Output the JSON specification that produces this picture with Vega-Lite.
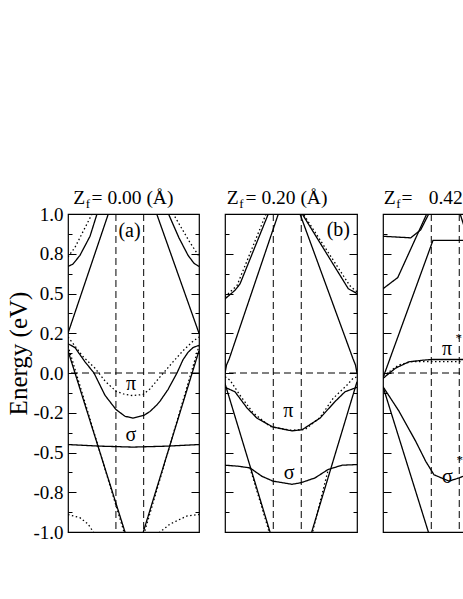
{
"$schema": "https://vega.github.io/schema/vega-lite/v6.json",
"padding": {"top": 187, "left": 5, "right": 0, "bottom": 0},
"bounds": "flush",
"spacing": 26,
"config": {"view": {"stroke": "black", "strokeWidth": 1.2}, "axis": {"labelFont": "Liberation Serif", "titleFont": "Liberation Serif", "labelColor": "black", "tickColor": "black", "titleColor": "black", "grid": false, "domain": false}, "text": {"font": "Liberation Serif", "color": "black"}},
"datasets": {
"kpts": [{"k": 0.577}, {"k": 0.911}],
"fermi": [{"E": 0}],
"bands": [
{"p":"a","id":"a1L","calc":"relaxed","k":0,"E":0.67},{"p":"a","id":"a1L","calc":"relaxed","k":0.06,"E":0.685},{"p":"a","id":"a1L","calc":"relaxed","k":0.144,"E":0.74},{"p":"a","id":"a1L","calc":"relaxed","k":0.265,"E":0.86},{"p":"a","id":"a1L","calc":"relaxed","k":0.349,"E":1.0},{"p":"a","id":"a1L","calc":"relaxed","k":0.37,"E":1.05},
{"p":"a","id":"a1R","calc":"relaxed","k":1.19,"E":1.05},{"p":"a","id":"a1R","calc":"relaxed","k":1.21,"E":1.0},{"p":"a","id":"a1R","calc":"relaxed","k":1.336,"E":0.85},{"p":"a","id":"a1R","calc":"relaxed","k":1.445,"E":0.74},{"p":"a","id":"a1R","calc":"relaxed","k":1.517,"E":0.69},{"p":"a","id":"a1R","calc":"relaxed","k":1.577,"E":0.67},
{"p":"a","id":"a1Ld","calc":"rigid","k":0,"E":0.73},{"p":"a","id":"a1Ld","calc":"rigid","k":0.084,"E":0.79},{"p":"a","id":"a1Ld","calc":"rigid","k":0.289,"E":1.0},{"p":"a","id":"a1Ld","calc":"rigid","k":0.31,"E":1.03},
{"p":"a","id":"a1Rd","calc":"rigid","k":1.25,"E":1.03},{"p":"a","id":"a1Rd","calc":"rigid","k":1.268,"E":1.0},{"p":"a","id":"a1Rd","calc":"rigid","k":1.469,"E":0.82},{"p":"a","id":"a1Rd","calc":"rigid","k":1.577,"E":0.735},
{"p":"a","id":"a2L","calc":"relaxed","k":0,"E":0.25},{"p":"a","id":"a2L","calc":"relaxed","k":0.485,"E":1.0},{"p":"a","id":"a2L","calc":"relaxed","k":0.52,"E":1.05},
{"p":"a","id":"a2R","calc":"relaxed","k":1.04,"E":1.05},{"p":"a","id":"a2R","calc":"relaxed","k":1.068,"E":1.0},{"p":"a","id":"a2R","calc":"relaxed","k":1.577,"E":0.25},
{"p":"a","id":"a3","calc":"rigid","k":0,"E":0.226},{"p":"a","id":"a3","calc":"rigid","k":0.084,"E":0.17},{"p":"a","id":"a3","calc":"rigid","k":0.169,"E":0.11},{"p":"a","id":"a3","calc":"rigid","k":0.265,"E":0.06},{"p":"a","id":"a3","calc":"rigid","k":0.325,"E":0.03},{"p":"a","id":"a3","calc":"rigid","k":0.445,"E":-0.05},{"p":"a","id":"a3","calc":"rigid","k":0.578,"E":-0.115},{"p":"a","id":"a3","calc":"rigid","k":0.686,"E":-0.135},{"p":"a","id":"a3","calc":"rigid","k":0.782,"E":-0.142},{"p":"a","id":"a3","calc":"rigid","k":0.903,"E":-0.135},{"p":"a","id":"a3","calc":"rigid","k":0.987,"E":-0.1},{"p":"a","id":"a3","calc":"rigid","k":1.108,"E":-0.024},{"p":"a","id":"a3","calc":"rigid","k":1.264,"E":0.07},{"p":"a","id":"a3","calc":"rigid","k":1.384,"E":0.14},{"p":"a","id":"a3","calc":"rigid","k":1.505,"E":0.2},{"p":"a","id":"a3","calc":"rigid","k":1.577,"E":0.226},
{"p":"a","id":"a4","calc":"relaxed","k":0,"E":0.184},{"p":"a","id":"a4","calc":"relaxed","k":0.084,"E":0.16},{"p":"a","id":"a4","calc":"relaxed","k":0.205,"E":0.07},{"p":"a","id":"a4","calc":"relaxed","k":0.313,"E":0.0},{"p":"a","id":"a4","calc":"relaxed","k":0.445,"E":-0.14},{"p":"a","id":"a4","calc":"relaxed","k":0.578,"E":-0.23},{"p":"a","id":"a4","calc":"relaxed","k":0.686,"E":-0.272},{"p":"a","id":"a4","calc":"relaxed","k":0.782,"E":-0.284},{"p":"a","id":"a4","calc":"relaxed","k":0.915,"E":-0.266},{"p":"a","id":"a4","calc":"relaxed","k":0.987,"E":-0.242},{"p":"a","id":"a4","calc":"relaxed","k":1.071,"E":-0.2},{"p":"a","id":"a4","calc":"relaxed","k":1.108,"E":-0.177},{"p":"a","id":"a4","calc":"relaxed","k":1.204,"E":-0.104},{"p":"a","id":"a4","calc":"relaxed","k":1.312,"E":0.0},{"p":"a","id":"a4","calc":"relaxed","k":1.384,"E":0.083},{"p":"a","id":"a4","calc":"relaxed","k":1.445,"E":0.13},{"p":"a","id":"a4","calc":"relaxed","k":1.505,"E":0.16},{"p":"a","id":"a4","calc":"relaxed","k":1.577,"E":0.174},
{"p":"a","id":"a5L","calc":"relaxed","k":0,"E":0.14},{"p":"a","id":"a5L","calc":"relaxed","k":0.686,"E":-1.0},{"p":"a","id":"a5L","calc":"relaxed","k":0.71,"E":-1.04},
{"p":"a","id":"a5Ld","calc":"rigid","k":0,"E":0.17},{"p":"a","id":"a5Ld","calc":"rigid","k":0.674,"E":-1.0},{"p":"a","id":"a5Ld","calc":"rigid","k":0.7,"E":-1.04},
{"p":"a","id":"a5R","calc":"relaxed","k":0.88,"E":-1.04},{"p":"a","id":"a5R","calc":"relaxed","k":0.906,"E":-1.0},{"p":"a","id":"a5R","calc":"relaxed","k":1.577,"E":0.14},
{"p":"a","id":"a5Rd","calc":"rigid","k":0.895,"E":-1.04},{"p":"a","id":"a5Rd","calc":"rigid","k":0.921,"E":-1.0},{"p":"a","id":"a5Rd","calc":"rigid","k":1.577,"E":0.17},
{"p":"a","id":"a6","calc":"relaxed","k":0,"E":-0.45},{"p":"a","id":"a6","calc":"relaxed","k":0.385,"E":-0.46},{"p":"a","id":"a6","calc":"relaxed","k":0.782,"E":-0.466},{"p":"a","id":"a6","calc":"relaxed","k":1.192,"E":-0.46},{"p":"a","id":"a6","calc":"relaxed","k":1.577,"E":-0.45},
{"p":"a","id":"a7L","calc":"rigid","k":0,"E":-0.89},{"p":"a","id":"a7L","calc":"rigid","k":0.144,"E":-0.91},{"p":"a","id":"a7L","calc":"rigid","k":0.241,"E":-0.95},{"p":"a","id":"a7L","calc":"rigid","k":0.305,"E":-1.0},{"p":"a","id":"a7L","calc":"rigid","k":0.33,"E":-1.03},
{"p":"a","id":"a7R","calc":"rigid","k":1.08,"E":-1.03},{"p":"a","id":"a7R","calc":"rigid","k":1.108,"E":-1.0},{"p":"a","id":"a7R","calc":"rigid","k":1.228,"E":-0.95},{"p":"a","id":"a7R","calc":"rigid","k":1.429,"E":-0.9},{"p":"a","id":"a7R","calc":"rigid","k":1.577,"E":-0.89},
{"p":"b","id":"b1L","calc":"relaxed","k":0,"E":0.466},{"p":"b","id":"b1L","calc":"relaxed","k":0.119,"E":0.52},{"p":"b","id":"b1L","calc":"relaxed","k":0.179,"E":0.56},{"p":"b","id":"b1L","calc":"relaxed","k":0.517,"E":1.0},{"p":"b","id":"b1L","calc":"relaxed","k":0.55,"E":1.04},
{"p":"b","id":"b1R","calc":"relaxed","k":0.9,"E":1.04},{"p":"b","id":"b1R","calc":"relaxed","k":0.923,"E":1.0},{"p":"b","id":"b1R","calc":"relaxed","k":1.473,"E":0.53},{"p":"b","id":"b1R","calc":"relaxed","k":1.577,"E":0.5},
{"p":"b","id":"b1Ld","calc":"rigid","k":0,"E":0.48},{"p":"b","id":"b1Ld","calc":"rigid","k":0.143,"E":0.55},{"p":"b","id":"b1Ld","calc":"rigid","k":0.49,"E":1.0},{"p":"b","id":"b1Ld","calc":"rigid","k":0.52,"E":1.04},
{"p":"b","id":"b1Rd","calc":"rigid","k":0.91,"E":1.04},{"p":"b","id":"b1Rd","calc":"rigid","k":0.935,"E":1.0},{"p":"b","id":"b1Rd","calc":"rigid","k":1.49,"E":0.55},{"p":"b","id":"b1Rd","calc":"rigid","k":1.577,"E":0.51},
{"p":"b","id":"b2L","calc":"relaxed","k":0,"E":0.0},{"p":"b","id":"b2L","calc":"relaxed","k":0.018,"E":0.05},{"p":"b","id":"b2L","calc":"relaxed","k":0.051,"E":0.09},{"p":"b","id":"b2L","calc":"relaxed","k":0.637,"E":1.0},{"p":"b","id":"b2L","calc":"relaxed","k":0.66,"E":1.04},
{"p":"b","id":"b2R","calc":"relaxed","k":0.87,"E":1.04},{"p":"b","id":"b2R","calc":"relaxed","k":0.896,"E":1.0},{"p":"b","id":"b2R","calc":"relaxed","k":1.529,"E":0.09},{"p":"b","id":"b2R","calc":"relaxed","k":1.559,"E":0.05},{"p":"b","id":"b2R","calc":"relaxed","k":1.577,"E":0.0},
{"p":"b","id":"b3","calc":"relaxed","k":0,"E":-0.09},{"p":"b","id":"b3","calc":"relaxed","k":0.119,"E":-0.118},{"p":"b","id":"b3","calc":"relaxed","k":0.263,"E":-0.22},{"p":"b","id":"b3","calc":"relaxed","k":0.382,"E":-0.284},{"p":"b","id":"b3","calc":"relaxed","k":0.573,"E":-0.34},{"p":"b","id":"b3","calc":"relaxed","k":0.8,"E":-0.364},{"p":"b","id":"b3","calc":"relaxed","k":0.92,"E":-0.357},{"p":"b","id":"b3","calc":"relaxed","k":1.135,"E":-0.284},{"p":"b","id":"b3","calc":"relaxed","k":1.314,"E":-0.18},{"p":"b","id":"b3","calc":"relaxed","k":1.434,"E":-0.118},{"p":"b","id":"b3","calc":"relaxed","k":1.577,"E":-0.09},
{"p":"b","id":"b3d","calc":"rigid","k":0,"E":-0.024},{"p":"b","id":"b3d","calc":"rigid","k":0.06,"E":-0.045},{"p":"b","id":"b3d","calc":"rigid","k":0.179,"E":-0.14},{"p":"b","id":"b3d","calc":"rigid","k":0.335,"E":-0.25},{"p":"b","id":"b3d","calc":"rigid","k":0.538,"E":-0.336},{"p":"b","id":"b3d","calc":"rigid","k":0.777,"E":-0.36},{"p":"b","id":"b3d","calc":"rigid","k":0.956,"E":-0.355},{"p":"b","id":"b3d","calc":"rigid","k":1.135,"E":-0.28},{"p":"b","id":"b3d","calc":"rigid","k":1.291,"E":-0.16},{"p":"b","id":"b3d","calc":"rigid","k":1.458,"E":-0.076},{"p":"b","id":"b3d","calc":"rigid","k":1.529,"E":-0.034},{"p":"b","id":"b3d","calc":"rigid","k":1.577,"E":-0.024},
{"p":"b","id":"b4","calc":"relaxed","k":0,"E":-0.58},{"p":"b","id":"b4","calc":"relaxed","k":0.155,"E":-0.586},{"p":"b","id":"b4","calc":"relaxed","k":0.299,"E":-0.597},{"p":"b","id":"b4","calc":"relaxed","k":0.442,"E":-0.65},{"p":"b","id":"b4","calc":"relaxed","k":0.573,"E":-0.68},{"p":"b","id":"b4","calc":"relaxed","k":0.8,"E":-0.7},{"p":"b","id":"b4","calc":"relaxed","k":0.908,"E":-0.69},{"p":"b","id":"b4","calc":"relaxed","k":1.075,"E":-0.66},{"p":"b","id":"b4","calc":"relaxed","k":1.231,"E":-0.607},{"p":"b","id":"b4","calc":"relaxed","k":1.398,"E":-0.58},{"p":"b","id":"b4","calc":"relaxed","k":1.577,"E":-0.576},
{"p":"b","id":"b5L","calc":"relaxed","k":0,"E":-0.066},{"p":"b","id":"b5L","calc":"relaxed","k":0.538,"E":-1.0},{"p":"b","id":"b5L","calc":"relaxed","k":0.56,"E":-1.04},
{"p":"b","id":"b5R","calc":"relaxed","k":1.01,"E":-1.04},{"p":"b","id":"b5R","calc":"relaxed","k":1.036,"E":-1.0},{"p":"b","id":"b5R","calc":"relaxed","k":1.577,"E":-0.055},
{"p":"b","id":"b5Ld","calc":"rigid","k":0.299,"E":-0.597},{"p":"b","id":"b5Ld","calc":"rigid","k":0.517,"E":-0.98},{"p":"b","id":"b5Ld","calc":"rigid","k":0.53,"E":-1.02},
{"p":"b","id":"b5Rd","calc":"rigid","k":1.04,"E":-1.02},{"p":"b","id":"b5Rd","calc":"rigid","k":1.055,"E":-0.98},{"p":"b","id":"b5Rd","calc":"rigid","k":1.234,"E":-0.607},
{"p":"c","id":"c1","calc":"relaxed","k":0,"E":0.86},{"p":"c","id":"c1","calc":"relaxed","k":0.331,"E":0.85},{"p":"c","id":"c1","calc":"relaxed","k":0.45,"E":0.9},{"p":"c","id":"c1","calc":"relaxed","k":0.546,"E":1.0},{"p":"c","id":"c1","calc":"relaxed","k":0.56,"E":1.03},
{"p":"c","id":"c2","calc":"relaxed","k":0,"E":0.53},{"p":"c","id":"c2","calc":"relaxed","k":0.176,"E":0.6},{"p":"c","id":"c2","calc":"relaxed","k":0.522,"E":1.0},{"p":"c","id":"c2","calc":"relaxed","k":0.54,"E":1.03},
{"p":"c","id":"c3","calc":"relaxed","k":0,"E":-0.03},{"p":"c","id":"c3","calc":"relaxed","k":0.597,"E":0.834},{"p":"c","id":"c3","calc":"relaxed","k":0.944,"E":0.834},{"p":"c","id":"c3","calc":"relaxed","k":1.05,"E":0.834},
{"p":"c","id":"c4","calc":"relaxed","k":0,"E":-0.034},{"p":"c","id":"c4","calc":"relaxed","k":0.148,"E":0.03},{"p":"c","id":"c4","calc":"relaxed","k":0.307,"E":0.07},{"p":"c","id":"c4","calc":"relaxed","k":0.466,"E":0.08},{"p":"c","id":"c4","calc":"relaxed","k":0.585,"E":0.085},{"p":"c","id":"c4","calc":"relaxed","k":1.05,"E":0.085},
{"p":"c","id":"c4d","calc":"rigid","k":0,"E":-0.02},{"p":"c","id":"c4d","calc":"rigid","k":0.188,"E":0.05},{"p":"c","id":"c4d","calc":"rigid","k":0.343,"E":0.072},{"p":"c","id":"c4d","calc":"rigid","k":0.582,"E":0.072},{"p":"c","id":"c4d","calc":"rigid","k":1.05,"E":0.072},
{"p":"c","id":"c5","calc":"relaxed","k":0,"E":-0.086},{"p":"c","id":"c5","calc":"relaxed","k":0.191,"E":-0.24},{"p":"c","id":"c5","calc":"relaxed","k":0.391,"E":-0.43},{"p":"c","id":"c5","calc":"relaxed","k":0.51,"E":-0.555},{"p":"c","id":"c5","calc":"relaxed","k":0.609,"E":-0.64},{"p":"c","id":"c5","calc":"relaxed","k":0.789,"E":-0.68},{"p":"c","id":"c5","calc":"relaxed","k":0.908,"E":-0.66},{"p":"c","id":"c5","calc":"relaxed","k":0.956,"E":-0.65},{"p":"c","id":"c5","calc":"relaxed","k":1.05,"E":-0.6},
{"p":"c","id":"c6","calc":"relaxed","k":0,"E":-0.086},{"p":"c","id":"c6","calc":"relaxed","k":0.542,"E":-1.0},{"p":"c","id":"c6","calc":"relaxed","k":0.56,"E":-1.03},
{"p":"c","id":"c7","calc":"relaxed","k":0.9,"E":1.05},{"p":"c","id":"c7","calc":"relaxed","k":0.922,"E":1.0},{"p":"c","id":"c7","calc":"relaxed","k":1.048,"E":0.79}
],
"labels": [
{"p":"a","kind":"big","text":"(a)","k":0.74,"E":0.89},{"p":"a","kind":"big","text":"π","k":0.758,"E":-0.07},{"p":"a","kind":"big","text":"σ","k":0.758,"E":-0.39},
{"p":"b","kind":"big","text":"(b)","k":1.354,"E":0.9},{"p":"b","kind":"big","text":"π","k":0.756,"E":-0.24},{"p":"b","kind":"big","text":"σ","k":0.765,"E":-0.63},
{"p":"c","kind":"big","text":"π","k":0.765,"E":0.15},{"p":"c","kind":"sup","text":"*","k":0.904,"E":0.22},{"p":"c","kind":"big","text":"σ","k":0.77,"E":-0.655},{"p":"c","kind":"sup","text":"*","k":0.916,"E":-0.545}
],
"titles": [
{"p":"a","part":"main","text":"Z","k":0.064,"E":1.063},{"p":"a","part":"sub","text":"f","k":0.214,"E":1.038},{"p":"a","part":"main","text":"= 0.00 (Å)","k":0.283,"E":1.063},
{"p":"b","part":"main","text":"Z","k":0.02,"E":1.063},{"p":"b","part":"sub","text":"f","k":0.17,"E":1.038},{"p":"b","part":"main","text":"= 0.20 (Å)","k":0.245,"E":1.063},
{"p":"c","part":"main","text":"Z","k":0.008,"E":1.063},{"p":"c","part":"sub","text":"f","k":0.158,"E":1.038},{"p":"c","part":"main","text":"=","k":0.221,"E":1.063},{"p":"c","part":"main","text":"0.42 (Å)","k":0.546,"E":1.063}
]
},
"hconcat": [
{
"width": 131, "height": 318,
"resolve": {"axis": {"y": "independent"}},
"layer": [
{"data": {"name": "kpts"}, "mark": {"type": "rule", "color": "black", "strokeWidth": 1, "strokeDash": [7, 4]}, "encoding": {"x": {"field": "k", "type": "quantitative", "scale": {"domain": [0, 1.577], "nice": false}, "axis": null}}},
{"data": {"name": "fermi"}, "mark": {"type": "rule", "color": "black", "strokeWidth": 1, "strokeDash": [7, 4]}, "encoding": {"y": {"field": "E", "type": "quantitative", "scale": {"domain": [-1, 1], "nice": false}, "axis": {"orient": "right", "values": [-1,-0.875,-0.75,-0.625,-0.5,-0.375,-0.25,-0.125,0,0.125,0.25,0.375,0.5,0.625,0.75,0.875,1], "labels": false, "title": null, "tickSize": {"condition": {"test": "abs(datum.value*4-round(datum.value*4))<0.001", "value": -8}, "value": -4}}}}},
{"data": {"name": "bands"}, "transform": [{"filter": "datum.p=='a'"}], "mark": {"type": "line", "clip": true, "color": "black", "strokeWidth": 1.3}, "encoding": {
"x": {"field": "k", "type": "quantitative", "scale": {"domain": [0, 1.577], "nice": false}, "axis": {"orient": "bottom", "values": [0, 0.577, 0.911, 1.577], "labelExpr": "datum.value==0.577?'M':datum.value==0.911?'K':'Γ'", "tickSize": 0, "labelPadding": 3, "labelFontSize": 19, "labelFlush": false, "labelOverlap": false, "labelAlign": {"condition": {"test": "datum.value==0", "value": "left"}, "value": "center"}, "title": null}},
"y": {"field": "E", "type": "quantitative", "scale": {"domain": [-1, 1], "nice": false}, "axis": {"orient": "left", "values": [-1,-0.875,-0.75,-0.625,-0.5,-0.375,-0.25,-0.125,0,0.125,0.25,0.375,0.5,0.625,0.75,0.875,1], "labelExpr": "datum.value==1?'1.0':datum.value==0.75?'0.8':datum.value==0.5?'0.5':datum.value==0.25?'0.2':datum.value==0?'0.0':datum.value==-0.25?'-0.2':datum.value==-0.5?'-0.5':datum.value==-0.75?'-0.8':datum.value==-1?'-1.0':''", "labelOverlap": false, "labelFontSize": 19, "labelPadding": 13, "tickSize": {"condition": {"test": "abs(datum.value*4-round(datum.value*4))<0.001", "value": -8}, "value": -4}, "title": "Energy (eV)", "titleFontSize": 25, "titleFontWeight": "normal", "titleX": -42, "titleY": 139, "titleAngle": -90, "titleAlign": "center", "titleBaseline": "alphabetic"}},
"detail": {"field": "id"},
"strokeDash": {"field": "calc", "type": "nominal", "scale": {"domain": ["relaxed", "rigid"], "range": [[1, 0], [1.5, 2.5]]}, "legend": null}}},
{"data": {"name": "labels"}, "transform": [{"filter": "datum.p=='a' && datum.kind=='big'"}], "mark": {"type": "text", "fontSize": 20, "baseline": "middle", "align": "center"}, "encoding": {"x": {"field": "k", "type": "quantitative", "axis": null}, "y": {"field": "E", "type": "quantitative", "axis": null}, "text": {"field": "text"}}},
{"data": {"name": "titles"}, "transform": [{"filter": "datum.p=='a' && datum.part=='main'"}], "mark": {"type": "text", "fontSize": 19.5, "baseline": "alphabetic", "align": "left"}, "encoding": {"x": {"field": "k", "type": "quantitative", "axis": null}, "y": {"field": "E", "type": "quantitative", "axis": null}, "text": {"field": "text"}}},
{"data": {"name": "titles"}, "transform": [{"filter": "datum.p=='a' && datum.part=='sub'"}], "mark": {"type": "text", "fontSize": 13, "baseline": "alphabetic", "align": "left"}, "encoding": {"x": {"field": "k", "type": "quantitative", "axis": null}, "y": {"field": "E", "type": "quantitative", "axis": null}, "text": {"field": "text"}}}
]
},
{
"width": 132, "height": 318,
"resolve": {"axis": {"y": "independent"}},
"layer": [
{"data": {"name": "kpts"}, "mark": {"type": "rule", "color": "black", "strokeWidth": 1, "strokeDash": [7, 4]}, "encoding": {"x": {"field": "k", "type": "quantitative", "scale": {"domain": [0, 1.577], "nice": false}, "axis": null}}},
{"data": {"name": "fermi"}, "mark": {"type": "rule", "color": "black", "strokeWidth": 1, "strokeDash": [7, 4]}, "encoding": {"y": {"field": "E", "type": "quantitative", "scale": {"domain": [-1, 1], "nice": false}, "axis": {"orient": "right", "values": [-1,-0.875,-0.75,-0.625,-0.5,-0.375,-0.25,-0.125,0,0.125,0.25,0.375,0.5,0.625,0.75,0.875,1], "labels": false, "title": null, "tickSize": {"condition": {"test": "abs(datum.value*4-round(datum.value*4))<0.001", "value": -8}, "value": -4}}}}},
{"data": {"name": "bands"}, "transform": [{"filter": "datum.p=='b'"}], "mark": {"type": "line", "clip": true, "color": "black", "strokeWidth": 1.3}, "encoding": {
"x": {"field": "k", "type": "quantitative", "scale": {"domain": [0, 1.577], "nice": false}, "axis": {"orient": "bottom", "values": [0, 0.577, 0.911, 1.577], "labelExpr": "datum.value==0.577?'M':datum.value==0.911?'K':'Γ'", "tickSize": 0, "labelPadding": 3, "labelFontSize": 19, "labelFlush": false, "labelOverlap": false, "labelAlign": {"condition": {"test": "datum.value==0", "value": "left"}, "value": "center"}, "title": null}},
"y": {"field": "E", "type": "quantitative", "scale": {"domain": [-1, 1], "nice": false}, "axis": {"orient": "left", "values": [-1,-0.875,-0.75,-0.625,-0.5,-0.375,-0.25,-0.125,0,0.125,0.25,0.375,0.5,0.625,0.75,0.875,1], "labels": false, "title": null, "tickSize": {"condition": {"test": "abs(datum.value*4-round(datum.value*4))<0.001", "value": -8}, "value": -4}}},
"detail": {"field": "id"},
"strokeDash": {"field": "calc", "type": "nominal", "scale": {"domain": ["relaxed", "rigid"], "range": [[1, 0], [1.5, 2.5]]}, "legend": null}}},
{"data": {"name": "labels"}, "transform": [{"filter": "datum.p=='b' && datum.kind=='big'"}], "mark": {"type": "text", "fontSize": 20, "baseline": "middle", "align": "center"}, "encoding": {"x": {"field": "k", "type": "quantitative", "axis": null}, "y": {"field": "E", "type": "quantitative", "axis": null}, "text": {"field": "text"}}},
{"data": {"name": "titles"}, "transform": [{"filter": "datum.p=='b' && datum.part=='main'"}], "mark": {"type": "text", "fontSize": 19.5, "baseline": "alphabetic", "align": "left"}, "encoding": {"x": {"field": "k", "type": "quantitative", "axis": null}, "y": {"field": "E", "type": "quantitative", "axis": null}, "text": {"field": "text"}}},
{"data": {"name": "titles"}, "transform": [{"filter": "datum.p=='b' && datum.part=='sub'"}], "mark": {"type": "text", "fontSize": 13, "baseline": "alphabetic", "align": "left"}, "encoding": {"x": {"field": "k", "type": "quantitative", "axis": null}, "y": {"field": "E", "type": "quantitative", "axis": null}, "text": {"field": "text"}}}
]
},
{
"width": 132, "height": 318,
"resolve": {"axis": {"y": "independent"}},
"layer": [
{"data": {"name": "kpts"}, "mark": {"type": "rule", "color": "black", "strokeWidth": 1, "strokeDash": [7, 4]}, "encoding": {"x": {"field": "k", "type": "quantitative", "scale": {"domain": [0, 1.577], "nice": false}, "axis": null}}},
{"data": {"name": "fermi"}, "mark": {"type": "rule", "color": "black", "strokeWidth": 1, "strokeDash": [7, 4]}, "encoding": {"y": {"field": "E", "type": "quantitative", "scale": {"domain": [-1, 1], "nice": false}, "axis": {"orient": "right", "values": [-1,-0.875,-0.75,-0.625,-0.5,-0.375,-0.25,-0.125,0,0.125,0.25,0.375,0.5,0.625,0.75,0.875,1], "labels": false, "title": null, "tickSize": {"condition": {"test": "abs(datum.value*4-round(datum.value*4))<0.001", "value": -8}, "value": -4}}}}},
{"data": {"name": "bands"}, "transform": [{"filter": "datum.p=='c'"}], "mark": {"type": "line", "clip": true, "color": "black", "strokeWidth": 1.3}, "encoding": {
"x": {"field": "k", "type": "quantitative", "scale": {"domain": [0, 1.577], "nice": false}, "axis": {"orient": "bottom", "values": [0, 0.577, 0.911, 1.577], "labelExpr": "datum.value==0.577?'M':datum.value==0.911?'K':'Γ'", "tickSize": 0, "labelPadding": 3, "labelFontSize": 19, "labelFlush": false, "labelOverlap": false, "labelAlign": {"condition": {"test": "datum.value==0", "value": "left"}, "value": "center"}, "title": null}},
"y": {"field": "E", "type": "quantitative", "scale": {"domain": [-1, 1], "nice": false}, "axis": {"orient": "left", "values": [-1,-0.875,-0.75,-0.625,-0.5,-0.375,-0.25,-0.125,0,0.125,0.25,0.375,0.5,0.625,0.75,0.875,1], "labels": false, "title": null, "tickSize": {"condition": {"test": "abs(datum.value*4-round(datum.value*4))<0.001", "value": -8}, "value": -4}}},
"detail": {"field": "id"},
"strokeDash": {"field": "calc", "type": "nominal", "scale": {"domain": ["relaxed", "rigid"], "range": [[1, 0], [1.5, 2.5]]}, "legend": null}}},
{"data": {"name": "labels"}, "transform": [{"filter": "datum.p=='c' && datum.kind=='big'"}], "mark": {"type": "text", "fontSize": 20, "baseline": "middle", "align": "center"}, "encoding": {"x": {"field": "k", "type": "quantitative", "axis": null}, "y": {"field": "E", "type": "quantitative", "axis": null}, "text": {"field": "text"}}},
{"data": {"name": "labels"}, "transform": [{"filter": "datum.p=='c' && datum.kind=='sup'"}], "mark": {"type": "text", "fontSize": 13, "baseline": "middle", "align": "center"}, "encoding": {"x": {"field": "k", "type": "quantitative", "axis": null}, "y": {"field": "E", "type": "quantitative", "axis": null}, "text": {"field": "text"}}},
{"data": {"name": "titles"}, "transform": [{"filter": "datum.p=='c' && datum.part=='main'"}], "mark": {"type": "text", "fontSize": 19.5, "baseline": "alphabetic", "align": "left"}, "encoding": {"x": {"field": "k", "type": "quantitative", "axis": null}, "y": {"field": "E", "type": "quantitative", "axis": null}, "text": {"field": "text"}}},
{"data": {"name": "titles"}, "transform": [{"filter": "datum.p=='c' && datum.part=='sub'"}], "mark": {"type": "text", "fontSize": 13, "baseline": "alphabetic", "align": "left"}, "encoding": {"x": {"field": "k", "type": "quantitative", "axis": null}, "y": {"field": "E", "type": "quantitative", "axis": null}, "text": {"field": "text"}}}
]
}
]
}
